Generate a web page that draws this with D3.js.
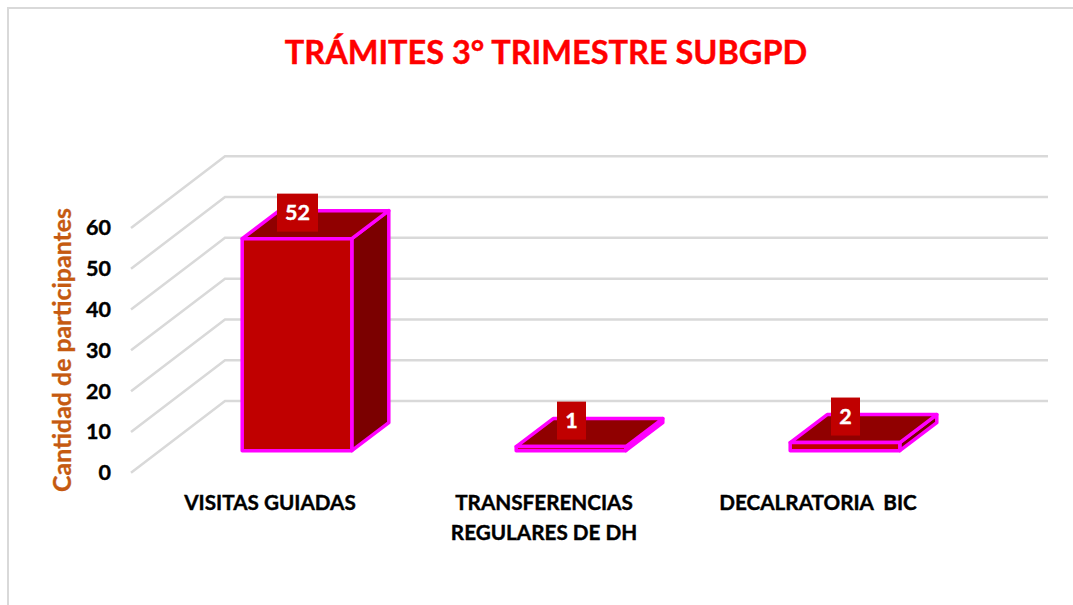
<!DOCTYPE html>
<html><head><meta charset="utf-8">
<style>html,body{margin:0;padding:0;background:#fff}svg{display:block}text{font-family:Lato,Carlito,sans-serif;font-weight:700}</style>
<script src="https://cdn.jsdelivr.net/npm/d3@7"></script></head>
<body><div id="chart"></div>
<script>
const chartTitle = "TRÁMITES 3° TRIMESTRE SUBGPD";
const yTitle = "Cantidad de participantes";
const categories = ["VISITAS GUIADAS", "TRANSFERENCIAS|REGULARES DE DH", "DECALRATORIA  BIC"];
const values = [52, 1, 2];
const yTicks = [0, 10, 20, 30, 40, 50, 60];

const W = 1073, H = 605;
const svg = d3.select("#chart").append("svg").attr("width", W).attr("height", H);

// frame
svg.append("path").attr("d", `M8,${H}V8H${W}`).attr("stroke", "#d9d9d9").attr("stroke-width", 2).attr("fill", "none");

svg.append("text").attr("x", 546).attr("y", 63.5).attr("text-anchor", "middle")
  .attr("font-size", 32.5).attr("fill", "#ff0000").attr("stroke", "#ff0000").attr("stroke-width", 0.4).text(chartTitle);

// scales: y on the front plane of the 3D box
const y = d3.scaleLinear().domain([0, 60]).range([472.7, 228]);
const x = d3.scaleBand().domain(categories).range([160, 982]).paddingInner(0.6).paddingOuter(0.3);
const depthX = 94, depthY = 71.7;
const backEnd = 1048;

const grid = svg.append("g").attr("fill", "none").attr("stroke", "#d9d9d9").attr("stroke-width", 2.5);
yTicks.forEach(t => {
  const y0 = y(t);
  grid.append("path").attr("d", `M131,${y0}L${131 + depthX},${y0 - depthY}H${backEnd}`);
});

// y axis labels
const yAxis = d3.axisLeft(y).tickValues(yTicks).tickSize(0).tickPadding(0);
const ga = svg.append("g").attr("transform", "translate(111,0)").call(yAxis);
ga.select(".domain").remove();
ga.selectAll("text").attr("font-size", 21.5).attr("fill", "#000").attr("font-family", "Lato").attr("font-weight", 700)
  .attr("stroke", "#000").attr("stroke-width", 0.4);

svg.append("text").attr("transform", "translate(71,350) rotate(-90)").attr("text-anchor", "middle")
  .attr("font-size", 24.9).attr("fill", "#c55a11").attr("stroke", "#c55a11").attr("stroke-width", 0.3).text(yTitle);

// bars
const bw = x.bandwidth();
const frontShift = 22;   // bar front sits this far up from the front plane
const barDx = 37, barDy = 28;
const bars = svg.append("g").attr("stroke", "#ff00ff").attr("stroke-width", 3.5).attr("stroke-linejoin", "round");
categories.forEach((c, i) => {
  const x0 = x(c), x1 = x0 + bw;
  const yb = y(0) - frontShift, yt = y(values[i]) - frontShift;
  const g = bars.append("g");
  g.append("path").attr("fill", "#7b0000")
    .attr("d", `M${x1},${yt}L${x1 + barDx},${yt - barDy}V${yb - barDy}L${x1},${yb}Z`);
  g.append("path").attr("fill", "#900000")
    .attr("d", `M${x0},${yt}L${x0 + barDx},${yt - barDy}H${x1 + barDx}L${x1},${yt}Z`);
  g.append("path").attr("fill", "#c00000")
    .attr("d", `M${x0},${yt}H${x1}V${yb}H${x0}Z`);
});

// data labels
const labels = svg.append("g");
categories.forEach((c, i) => {
  const cx = x(c) + bw / 2 + 0.5, cy = y(values[i]) - frontShift - 26;
  const w = values[i] >= 10 ? 41 : 29, h = 38;
  labels.append("rect").attr("x", cx - w / 2).attr("y", cy - h / 2).attr("width", w).attr("height", h).attr("fill", "#c00000");
  labels.append("text").attr("x", cx).attr("y", cy).attr("dy", "0.36em").attr("text-anchor", "middle")
    .attr("font-size", 21.5).attr("fill", "#fff").attr("stroke", "#fff").attr("stroke-width", 0.4).text(values[i]);
});

// category labels
const cats = svg.append("g");
categories.forEach(c => {
  const cx = x(c) + bw / 2 - 27;
  c.split("|").forEach((line, k) => {
    cats.append("text").attr("x", cx).attr("y", 510 + k * 29.5).attr("text-anchor", "middle")
      .attr("font-size", 20.7).attr("fill", "#000").attr("stroke", "#000").attr("stroke-width", 0.4)
      .style("white-space", "pre").text(line);
  });
});
</script></body></html>
